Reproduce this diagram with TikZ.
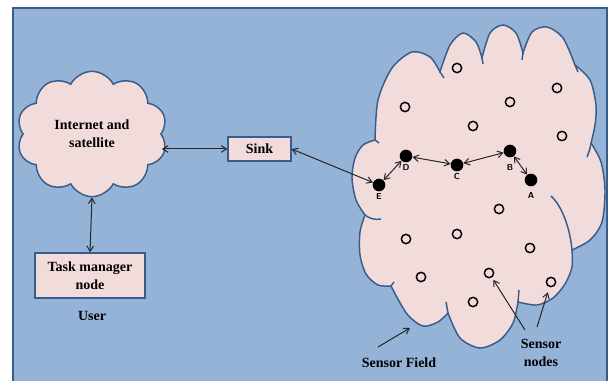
\documentclass[tikz,border=0pt]{standalone}
\usepackage{fontspec}
\setmainfont{Liberation Serif}
\usetikzlibrary{shapes.symbols,arrows.meta,calc}
\definecolor{bgblue}{HTML}{95B3D7}
\definecolor{edgeblue}{HTML}{385D8A}
\definecolor{pinkfill}{HTML}{F2DCDB}
\begin{document}
\begin{tikzpicture}[x=0.75pt,y=0.75pt,
  txt/.style={font=\fontsize{10.5}{13.5}\selectfont\bfseries, align=center},
  box/.style={draw=edgeblue, fill=pinkfill, line width=1.1pt, inner sep=0pt, txt},
  outline/.style={draw=edgeblue, line width=1.1pt},
  link/.style={{Straight Barb[length=4pt,width=5pt]}-{Straight Barb[length=4pt,width=5pt]}, line width=0.75pt, black!85},
  ptr/.style={-{Straight Barb[length=4pt,width=5pt]}, line width=0.75pt, black!85},
  sensor/.style={circle, draw=black, line width=1.1pt, fill=pinkfill, minimum size=7pt, inner sep=0pt},
  hop/.style={circle, fill=black, minimum size=9.5pt, inner sep=0pt},
  hoplbl/.style={font=\sffamily\bfseries\fontsize{6.5}{7}\selectfont},
]
\useasboundingbox (0,0) rectangle (610,-381);
\fill[white] (0,0) rectangle (610,-381);
\draw[edgeblue, fill=bgblue, line width=1pt] (13,-382) -- (13,-8) -- (607,-8) -- (607,-382);

% sensor field cloud
\path[outline, fill=pinkfill]
  (375,-140)
  -- plot[smooth] coordinates {(375,-140) (378,-100) (392,-68) (412,-52) (430,-57) (440,-72)}
  -- plot[smooth] coordinates {(440,-72) (450,-45) (463,-33) (476,-42) (482,-58)}
  -- plot[smooth] coordinates {(482,-58) (490,-33) (503,-25) (516,-33) (523,-53)}
  -- plot[smooth] coordinates {(523,-53) (532,-32) (547,-27) (563,-38) (575,-65)}
  -- plot[smooth] coordinates {(575,-65) (590,-80) (596,-105) (595,-125) (591,-143)}
  -- plot[smooth] coordinates {(591,-143) (601,-162) (605,-190) (602,-222) (590,-240) (572,-250)}
  -- plot[smooth] coordinates {(572,-250) (572,-267) (565,-284) (553,-298) (537,-305) (518,-302)}
  -- plot[smooth] coordinates {(518,-302) (513,-323) (500,-340) (480,-348) (460,-338) (448,-313)}
  -- plot[smooth] coordinates {(448,-313) (438,-322) (423,-326) (407,-314) (391,-286)}
  -- plot[smooth] coordinates {(391,-286) (378,-285) (366,-274) (360,-255) (360,-232) (365,-215)}
  -- plot[smooth] coordinates {(365,-215) (356,-200) (352,-178) (355,-158) (363,-145) (375,-140)}
  -- cycle;
% inner cusp arcs
\draw[outline] (365,-215) .. controls (370,-219) and (375,-220) .. (381,-219);
\draw[outline] (591,-143) .. controls (590,-149) .. (587,-157);
\draw[outline] (572,-250) .. controls (570,-228) and (562,-206) .. (551,-196);
\draw[outline] (518,-302) -- (519,-290);
\draw[outline] (448,-313) -- (446,-302);
\draw[outline] (391,-286) -- (394,-282);
\draw[outline] (440,-72) -- (444,-78);
\draw[outline] (482,-58) -- (483,-64);
\draw[outline] (523,-53) -- (522,-60);
\draw[outline] (575,-65) -- (578,-72);
\draw[outline] (375,-140) -- (379,-143);

% internet cloud
\node[cloud, cloud puffs=10, cloud puff arc=125, cloud ignores aspect, draw=edgeblue, fill=pinkfill, line width=1.1pt, minimum width=113pt, minimum height=94pt, txt] (inet) at (92,-134) {Internet and\\satellite};

\node[box, minimum width=47pt, minimum height=18pt] (sink) at (259.5,-149) {Sink};
\node[box, minimum width=82.5pt, minimum height=33.75pt] (task) at (90,-275.5) {Task manager\\node};
\node[txt] (user) at (92,-316) {User};

% sensor nodes
\foreach \p [count=\i] in {(457,-68),(405,-107),(510,-102),(557,-88),(473,-126),(562,-136),(499,-209),(406,-239),(457,-234),(530,-248),(421,-277),(489,-273),(551,-282),(473,-302)}
  \node[sensor] (s\i) at \p {};

% routing nodes
\node[hop, label={[hoplbl, label distance=-2pt]below:E}] (E) at (379,-185) {};
\node[hop, label={[hoplbl, label distance=-2pt]below:D}] (D) at (406,-156) {};
\node[hop, label={[hoplbl, label distance=-2pt]below:C}] (C) at (457,-165) {};
\node[hop, label={[hoplbl, label distance=1.5pt]below:B}] (B) at (510,-151) {};
\node[hop, label={[hoplbl, label distance=1pt]below:A}] (A) at (531,-180) {};

% connectors
\draw[link] (sink.west -| inet.east) -- (sink.west);
\draw[link] (inet.south) -- (task.north);
\draw[link] (sink.east) -- (E);
\draw[link] (E) -- (D);
\draw[link] (D) -- (C);
\draw[link] (C) -- (B);
\draw[link] (B) -- (A);

% annotations
\node[txt] (sf) at (399,-363) {Sensor Field};
\node[txt] (sn) at (541,-353) {Sensor\\nodes};
\coordinate (sfTail) at (378,-347);
\coordinate (sfTip) at (410,-328);
\coordinate (snTailA) at (525,-330);
\coordinate (snTailB) at (537,-327);
\draw[ptr] (sfTail) -- (sfTip);
\draw[ptr, shorten >=2pt] (snTailA) -- (s12);
\draw[ptr, shorten >=4pt] (snTailB) -- (s13);
\end{tikzpicture}
\end{document}
